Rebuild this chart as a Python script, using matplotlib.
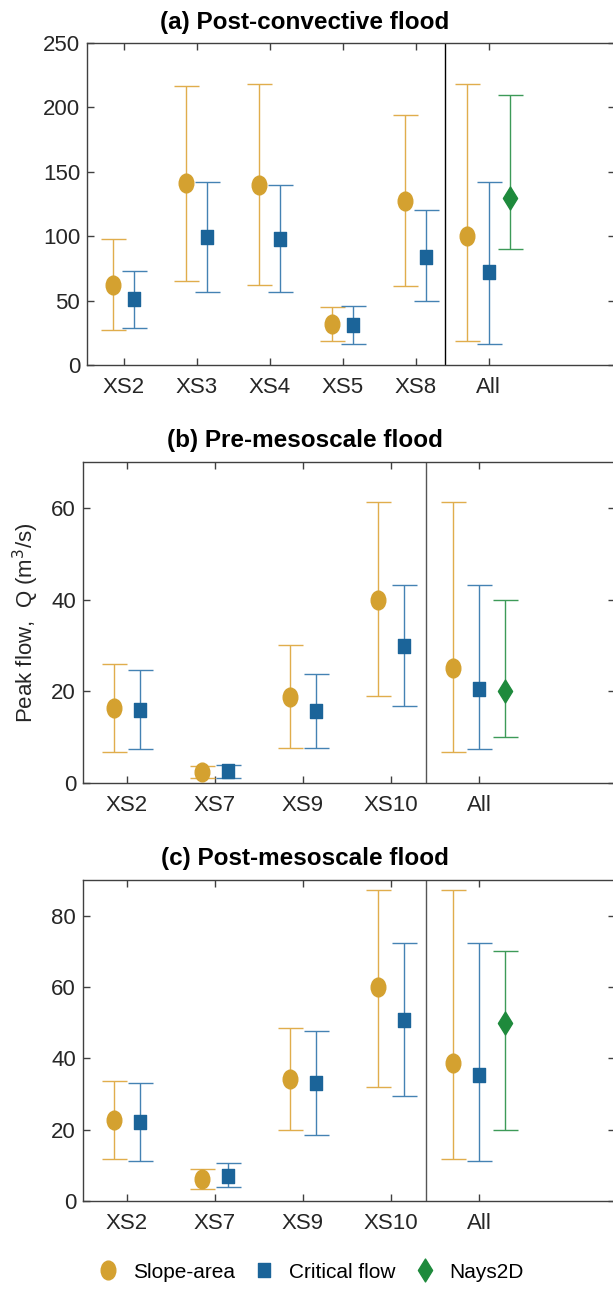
import numpy as np
import matplotlib
matplotlib.use("Agg")
import matplotlib.pyplot as plt
from matplotlib.path import Path
from matplotlib.transforms import Affine2D
from matplotlib.lines import Line2D

plt.rcParams['font.family'] = ['Liberation Sans', 'DejaVu Sans']

# ---- data ----
cats_a = ['XS2', 'XS3', 'XS4', 'XS5', 'XS8']
sa_a = [62, 141, 140, 32, 127]
sa_a_lo = [27, 65, 62, 19, 61]
sa_a_hi = [98, 217, 218, 45, 194]
cf_a = [51, 99, 98, 31, 84]
cf_a_lo = [29, 57, 57, 16, 50]
cf_a_hi = [73, 142, 140, 46, 120]
all_a = [100, 72.5, 130]          # slope-area, critical flow, Nays2D
all_a_lo = [18.7, 16.3, 90]
all_a_hi = [218, 142, 210]

cats_b = ['XS2', 'XS7', 'XS9', 'XS10']
sa_b = [16.4, 2.5, 18.8, 40]
sa_b_lo = [6.7, 1.0, 7.6, 19.0]
sa_b_hi = [26.0, 3.8, 30.1, 61.3]
cf_b = [15.9, 2.6, 15.6, 29.8]
cf_b_lo = [7.5, 1.1, 7.7, 16.9]
cf_b_hi = [24.6, 4.0, 23.7, 43.1]
all_b = [25, 20.5, 20]
all_b_lo = [6.7, 7.5, 10]
all_b_hi = [61.3, 43.1, 40]

cats_c = ['XS2', 'XS7', 'XS9', 'XS10']
sa_c = [22.8, 6.1, 34.1, 59.9]
sa_c_lo = [11.9, 3.5, 19.8, 32.1]
sa_c_hi = [33.7, 8.9, 48.5, 87.3]
cf_c = [22.1, 7.1, 33.2, 50.7]
cf_c_lo = [11.3, 3.9, 18.4, 29.4]
cf_c_hi = [33.1, 10.6, 47.7, 72.2]
all_c = [38.7, 35.4, 50]
all_c_lo = [11.9, 11.3, 20]
all_c_hi = [87.3, 72.2, 70]

GOLD = '#d4a130'
GOLD_BAR = '#e0ad4c'
BLUE = '#1b6499'
BLUE_BAR = '#4482b3'
GREEN = '#1e8a3c'
GREEN_BAR = '#3d9a58'
AXC = '#404040'
TXT = '#262626'

# horizontally squeezed markers (the reference is compressed sideways)
circ = Path.unit_circle().transformed(Affine2D().scale(0.78, 1.0))
sq = Path.unit_rectangle().transformed(Affine2D().translate(-0.5, -0.5).scale(0.85, 1.0))
dia = Path([(0, 1), (0.62, 0), (0, -1), (-0.62, 0), (0, 1)],
           [Path.MOVETO, Path.LINETO, Path.LINETO, Path.LINETO, Path.CLOSEPOLY])

fig = plt.figure(figsize=(6.13, 12.89), dpi=100)


def errbar(ax, x, y, lo, hi, marker, ms, mc, bc):
    y = np.asarray(y, float)
    err = [y - np.asarray(lo), np.asarray(hi) - y]
    ax.errorbar(x, y, yerr=err, fmt='none', ecolor=bc, elinewidth=1.0,
                capsize=9, capthick=1.0, zorder=2)
    ax.plot(x, y, linestyle='none', marker=marker, markersize=ms,
            markerfacecolor=mc, markeredgecolor=mc, zorder=3)


def panel(rect, cats, sa, sa_lo, sa_hi, cf, cf_lo, cf_hi, al, al_lo, al_hi,
          ylim, yticks, xmax, sepc):
    ax = fig.add_axes(rect)
    n = len(cats)
    xs = np.arange(1, n + 1)
    errbar(ax, xs - 0.15, sa, sa_lo, sa_hi, circ, 13.5, GOLD, GOLD_BAR)
    errbar(ax, xs + 0.15, cf, cf_lo, cf_hi, sq, 10.5, BLUE, BLUE_BAR)
    xa = n + 1
    errbar(ax, [xa - 0.3], [al[0]], [al_lo[0]], [al_hi[0]], circ, 13.5, GOLD, GOLD_BAR)
    errbar(ax, [xa], [al[1]], [al_lo[1]], [al_hi[1]], sq, 10.5, BLUE, BLUE_BAR)
    errbar(ax, [xa + 0.3], [al[2]], [al_lo[2]], [al_hi[2]], dia, 16.5, GREEN, GREEN_BAR)
    ax.axvline(n + 0.4, color=sepc, linewidth=1.0, zorder=1)
    ax.set_xlim(0.5, xmax)
    ax.set_ylim(*ylim)
    ax.set_xticks(list(xs) + [xa])
    ax.set_xticklabels(cats + ['All'])
    ax.set_yticks(yticks)
    ax.tick_params(direction='in', length=5, width=1.0, color=AXC,
                   labelcolor=TXT, labelsize=16, top=True, right=True)
    ax.tick_params(axis='x', pad=8.5)
    ax.tick_params(axis='y', pad=5)
    for s in ax.spines.values():
        s.set_color(AXC)
        s.set_linewidth(1.0)
    return ax


W, H = 613.0, 1289.0
panel([87 / W, 1 - 365 / H, 528 / W, 322 / H], cats_a,
      sa_a, sa_a_lo, sa_a_hi, cf_a, cf_a_lo, cf_a_hi, all_a, all_a_lo, all_a_hi,
      (0, 250), [0, 50, 100, 150, 200, 250], 0.5 + 528 / 73, 'black')
panel([83 / W, 1 - 783 / H, 532 / W, 321 / H], cats_b,
      sa_b, sa_b_lo, sa_b_hi, cf_b, cf_b_lo, cf_b_hi, all_b, all_b_lo, all_b_hi,
      (0, 70), [0, 20, 40, 60], 0.5 + 532 / 88, '#555555')
panel([83 / W, 1 - 1201 / H, 532 / W, 321 / H], cats_c,
      sa_c, sa_c_lo, sa_c_hi, cf_c, cf_c_lo, cf_c_hi, all_c, all_c_lo, all_c_hi,
      (0, 90), [0, 20, 40, 60, 80], 0.5 + 532 / 88, '#555555')

titles = ['(a) Post-convective flood', '(b) Pre-mesoscale flood', '(c) Post-mesoscale flood']
for t, yc in zip(titles, [22, 440, 858]):
    fig.text(305 / W, 1 - yc / H, t, ha='center', va='center',
             fontsize=17.5, fontweight='bold', color='black')

fig.text(26 / W, 1 - 623 / H, 'Peak flow,  Q (m$^3$/s)', rotation=90,
         ha='center', va='center', fontsize=16, color=TXT)

handles = [
    Line2D([], [], linestyle='none', marker=circ, markersize=13.5,
           markerfacecolor=GOLD, markeredgecolor=GOLD, label='Slope-area'),
    Line2D([], [], linestyle='none', marker=sq, markersize=10.5,
           markerfacecolor=BLUE, markeredgecolor=BLUE, label='Critical flow'),
    Line2D([], [], linestyle='none', marker=dia, markersize=16.5,
           markerfacecolor=GREEN, markeredgecolor=GREEN, label='Nays2D'),
]
fig.legend(handles=handles, loc='center', bbox_to_anchor=(0.505, 1 - 1272 / H),
           ncol=3, frameon=False, fontsize=15, handletextpad=0.6,
           columnspacing=0.8, handlelength=1.2, labelcolor='black')

fig.savefig('out.png', dpi=100)
